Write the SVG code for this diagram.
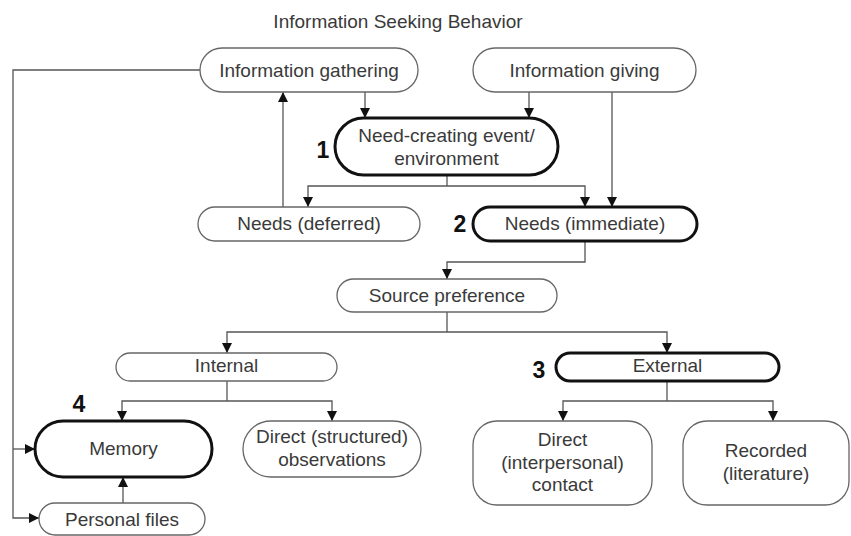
<svg xmlns="http://www.w3.org/2000/svg" width="851" height="536" viewBox="0 0 851 536">
  <defs>
    <marker id="arrow" markerUnits="userSpaceOnUse" markerWidth="10" markerHeight="12" viewBox="0 0 10 12" refX="10" refY="6" orient="auto">
      <path d="M0,1 L10,6 L0,11 Z" fill="#111"/>
    </marker>
    <style>
      .box { fill: #fff; stroke: #666; stroke-width: 1.3; }
      .key { fill: #fff; stroke: #111; stroke-width: 3; }
      .lbl { font-family: "Liberation Sans", Arial, sans-serif; font-size: 19px; fill: #3a3a3a; text-anchor: middle; }
      .num { font-family: "Liberation Sans", Arial, sans-serif; font-size: 23px; font-weight: bold; fill: #111; text-anchor: middle; }
      .wire { fill: none; stroke: #555; stroke-width: 1.3; }
      .wire-arrow { fill: none; stroke: #555; stroke-width: 1.3; marker-end: url(#arrow); }
    </style>
  </defs>

  <rect width="851" height="536" fill="#fff"/>

  <text class="lbl" x="398" y="28">Information Seeking Behavior</text>

  <!-- connectors -->
  <g id="connectors">
    <!-- gathering / giving into the need-creating event -->
    <path class="wire-arrow" d="M365,92 V118"/>
    <path class="wire-arrow" d="M529,92 V118"/>
    <!-- giving straight to immediate needs -->
    <path class="wire-arrow" d="M612,92 V207"/>
    <!-- event splits into deferred / immediate needs -->
    <path class="wire" d="M447,175 V186"/>
    <path class="wire-arrow" d="M447,186 H308 V207"/>
    <path class="wire-arrow" d="M447,186 H585 V207"/>
    <!-- deferred needs back to gathering -->
    <path class="wire-arrow" d="M283,207 V92"/>
    <!-- immediate needs to source preference -->
    <path class="wire-arrow" d="M585,241 V262 H447 V279"/>
    <!-- source preference splits -->
    <path class="wire" d="M447,312 V332"/>
    <path class="wire-arrow" d="M447,332 H227 V353"/>
    <path class="wire-arrow" d="M447,332 H667 V353"/>
    <!-- internal splits -->
    <path class="wire" d="M227,381 V401"/>
    <path class="wire-arrow" d="M227,401 H122 V421"/>
    <path class="wire-arrow" d="M227,401 H332 V421"/>
    <!-- external splits -->
    <path class="wire" d="M667,381 V401"/>
    <path class="wire-arrow" d="M667,401 H563 V421"/>
    <path class="wire-arrow" d="M667,401 H773 V421"/>
    <!-- personal files feed memory -->
    <path class="wire-arrow" d="M123,503 V477"/>
    <!-- gathering loop down the left side -->
    <path class="wire-arrow" d="M200,70 H13 V518 H39"/>
    <path class="wire-arrow" d="M13,449 H35"/>
  </g>

  <g id="info-gathering">
    <rect class="box" x="200" y="48" width="218" height="44" rx="22"/>
    <text class="lbl" x="309" y="77">Information gathering</text>
  </g>

  <g id="info-giving">
    <rect class="box" x="473" y="48" width="223" height="44" rx="22"/>
    <text class="lbl" x="584.5" y="77">Information giving</text>
  </g>

  <g id="need-event">
    <rect class="key" x="335" y="118" width="223" height="57" rx="28.5"/>
    <text class="lbl" x="446.5" y="142">Need-creating event/</text>
    <text class="lbl" x="446.5" y="165">environment</text>
    <text class="num" x="323" y="158">1</text>
  </g>

  <g id="needs-deferred">
    <rect class="box" x="198" y="207" width="222" height="34" rx="17"/>
    <text class="lbl" x="309" y="230">Needs (deferred)</text>
  </g>

  <g id="needs-immediate">
    <rect class="key" x="473" y="207" width="224" height="34" rx="17"/>
    <text class="lbl" x="585" y="230">Needs (immediate)</text>
    <text class="num" x="460" y="232">2</text>
  </g>

  <g id="source-preference">
    <rect class="box" x="337" y="279" width="220" height="33" rx="16.5"/>
    <text class="lbl" x="447" y="302">Source preference</text>
  </g>

  <g id="internal">
    <rect class="box" x="116" y="353" width="221" height="28" rx="14"/>
    <text class="lbl" x="226.5" y="372">Internal</text>
  </g>

  <g id="external">
    <rect class="key" x="556" y="353" width="223" height="28" rx="14"/>
    <text class="lbl" x="667.5" y="372">External</text>
    <text class="num" x="539" y="378">3</text>
  </g>

  <g id="memory">
    <rect class="key" x="35" y="421" width="177" height="56" rx="28"/>
    <text class="lbl" x="123.5" y="455">Memory</text>
    <text class="num" x="79" y="412">4</text>
  </g>

  <g id="direct-observations">
    <rect class="box" x="243" y="421" width="178" height="56" rx="28"/>
    <text class="lbl" x="332" y="443">Direct (structured)</text>
    <text class="lbl" x="332" y="466">observations</text>
  </g>

  <g id="personal-files">
    <rect class="box" x="39" y="503" width="166" height="32" rx="16"/>
    <text class="lbl" x="122" y="526">Personal files</text>
  </g>

  <g id="direct-contact">
    <rect class="box" x="473" y="421" width="179" height="84" rx="24"/>
    <text class="lbl" x="562.5" y="446">Direct</text>
    <text class="lbl" x="562.5" y="468.5">(interpersonal)</text>
    <text class="lbl" x="562.5" y="491">contact</text>
  </g>

  <g id="recorded">
    <rect class="box" x="683" y="421" width="166" height="84" rx="24"/>
    <text class="lbl" x="766" y="457">Recorded</text>
    <text class="lbl" x="766" y="480">(literature)</text>
  </g>
</svg>
